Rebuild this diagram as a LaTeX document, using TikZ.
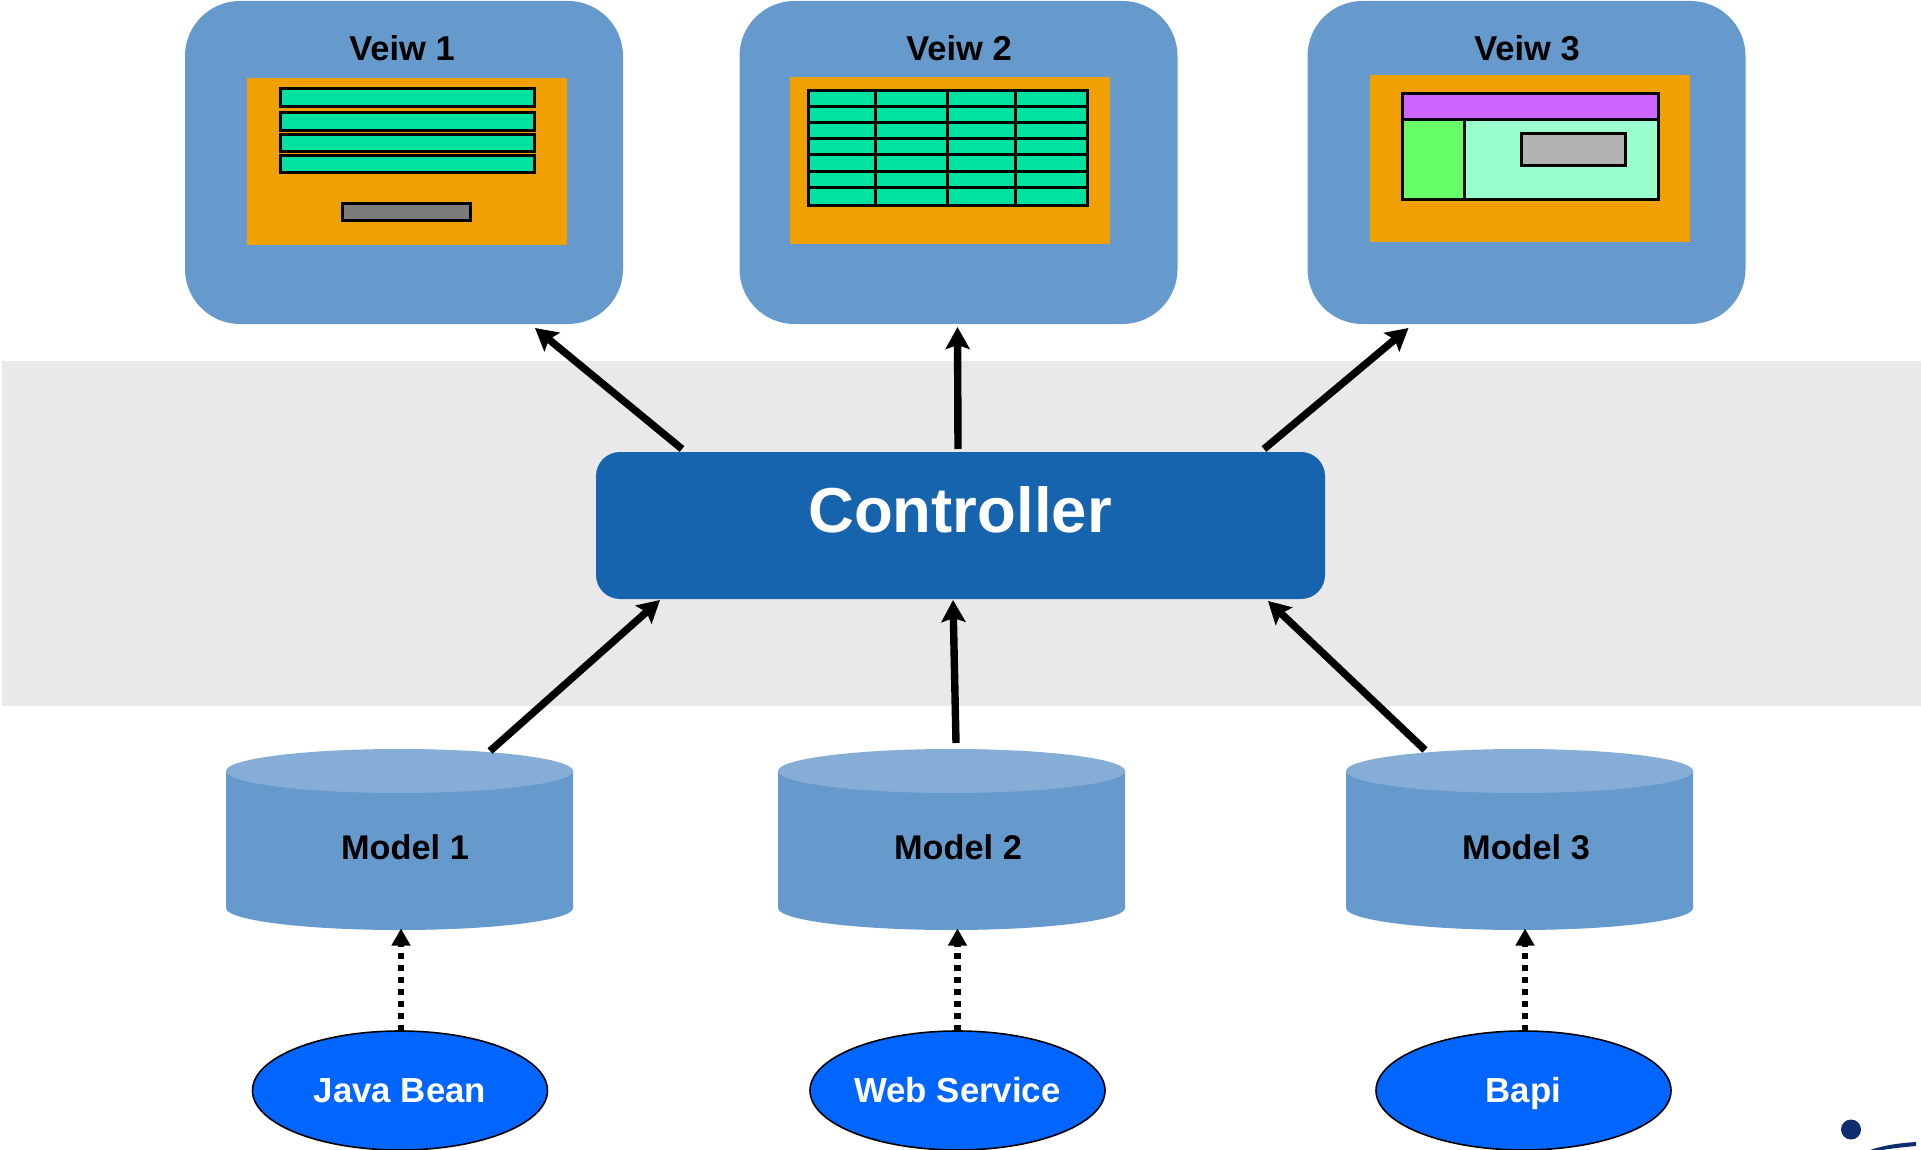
\documentclass[tikz,border=0pt]{standalone}
\usepackage{fontspec}
\setmainfont{Liberation Sans}
\usetikzlibrary{arrows.meta,shapes.geometric}
\definecolor{viewblue}{HTML}{6699CC}
\definecolor{cyltop}{HTML}{85ADD6}
\definecolor{orangebg}{HTML}{F0A000}
\definecolor{tealbar}{HTML}{00E3A0}
\definecolor{greybtn}{HTML}{7C7C7C}
\definecolor{purplebar}{HTML}{CC66FF}
\definecolor{limepane}{HTML}{66FF66}
\definecolor{mintpane}{HTML}{99FFCC}
\definecolor{greypane}{HTML}{B2B2B2}
\definecolor{srcblue}{HTML}{0066FF}
\definecolor{ctrlblue}{HTML}{1764AE}
\definecolor{bandgrey}{HTML}{E9E9E9}
\definecolor{navy}{HTML}{0F2D6E}
\tikzset{
  viewbox/.style={draw=none,fill=viewblue,rounded corners=55pt,minimum width=438pt,minimum height=323pt,inner sep=0pt,outer sep=0pt},
  viewtitle/.style={anchor=base,font=\fontsize{34.5}{34.5}\selectfont\bfseries,text=black,inner sep=0pt},
  panel/.style={fill=orangebg,draw=none},
  item/.style={draw=black,line width=3pt},
  modelbox/.style={rectangle,minimum width=347pt,minimum height=181pt,inner sep=0pt,outer sep=0pt,draw=none},
  modeltitle/.style={anchor=base,font=\fontsize{34.3}{34.3}\selectfont\bfseries,text=black,inner sep=0pt},
  source/.style={ellipse,draw=black,line width=1.6pt,fill=srcblue,minimum width=295pt,minimum height=119pt,inner sep=0pt,outer sep=0pt,text=white,text height=24pt,text depth=1pt,font=\fontsize{34.8}{34.8}\selectfont\bfseries},
  ctrlbox/.style={fill=ctrlblue,draw=none,rounded corners=24pt,minimum width=729pt,minimum height=147pt,inner sep=0pt,outer sep=0pt},
  flow/.style={draw=black,line width=7.4pt,-{Stealth[length=22pt,width=24pt,inset=4pt]}},
  feed/.style={draw=black,line width=6.4pt,dash pattern=on 6pt off 6pt,-{Triangle[length=17pt,width=18pt]}},
}
\newcommand{\cylshape}[1]{%
  \fill[viewblue] ([shift={(0,22)}]#1.north west) -- ([shift={(0,-22)}]#1.south west)
    arc[x radius=173.5,y radius=22,start angle=180,end angle=0]
    -- ([shift={(0,22)}]#1.north east) -- cycle;
  \fill[cyltop] ([shift={(0,22)}]#1.north) ellipse [x radius=173.5,y radius=22];
}
\begin{document}
\begin{tikzpicture}[x=1pt,y=-1pt]
\useasboundingbox (0,0) rectangle (1921,1150);
\fill[white] (0,0) rectangle (1921,1150);
\fill[bandgrey] (2,361) rectangle (1921,706);
% views
\node[viewbox] (v1) at (404,162.5) {};
\node[viewbox] (v2) at (958.5,162.5) {};
\node[viewbox] (v3) at (1526.5,162.5) {};
\node[viewtitle] (v1t) at (402,60.5) {Veiw 1};
\node[viewtitle] (v2t) at (959,60.5) {Veiw 2};
\node[viewtitle] (v3t) at (1527,60.5) {Veiw 3};
% view 1 content
\fill[panel] (247,78) rectangle (567,245);
\draw[item,fill=tealbar] (280,89) rectangle (534,106.5);
\draw[item,fill=tealbar] (280,113) rectangle (534,130.5);
\draw[item,fill=tealbar] (280,135) rectangle (534,152);
\draw[item,fill=tealbar] (280,156) rectangle (534,173);
\draw[item,fill=greybtn] (342.5,204) rectangle (470,221);
% view 2 content
\fill[panel] (790,77) rectangle (1110,244);
\draw[item,fill=tealbar] (808.5,91) rectangle (1087.5,206);
\draw[item] (875,91) -- (875,206) (947,91) -- (947,206) (1015,91) -- (1015,206);
\draw[item] (808.5,107) -- (1087.5,107) (808.5,123) -- (1087.5,123) (808.5,139) -- (1087.5,139)
  (808.5,155) -- (1087.5,155) (808.5,172) -- (1087.5,172) (808.5,188) -- (1087.5,188);
% view 3 content
\fill[panel] (1370,75) rectangle (1690,242);
\draw[item,fill=purplebar] (1402,94) rectangle (1658,120);
\draw[item,fill=limepane] (1402,120) rectangle (1464,200);
\draw[item,fill=mintpane] (1464,120) rectangle (1658,200);
\draw[item,fill=greypane] (1521,134) rectangle (1625,166);
% controller
\node[ctrlbox] (ctrl) at (960.5,525.5) {};
\node[anchor=base,font=\fontsize{63.5}{63.5}\selectfont\bfseries,text=white,inner sep=0pt] (ctrlt) at (960,532) {Controller};
% models
\node[modelbox] (m1) at (399.5,839.5) {};
\node[modelbox] (m2) at (951.5,839.5) {};
\node[modelbox] (m3) at (1519.5,839.5) {};
\cylshape{m1}
\cylshape{m2}
\cylshape{m3}
\node[modeltitle] (m1t) at (405,859) {Model 1};
\node[modeltitle] (m2t) at (958,859) {Model 2};
\node[modeltitle] (m3t) at (1526,859) {Model 3};
% sources
\node[source] (s1) at (400,1090.5) {Java Bean};
\node[source] (s2) at (957.5,1090.5) {Web Service};
\node[source] (s3) at (1523.5,1090.5) {Bapi};
% connectors
\draw[flow] ([shift={(86,-3)}]ctrl.north west) -- ([shift={(350,4)}]v1.south west);
\draw[flow] ([shift={(362,-3)}]ctrl.north west) -- ([shift={(218,3)}]v2.south west);
\draw[flow] ([shift={(668,-3)}]ctrl.north west) -- ([shift={(101,4)}]v3.south west);
\draw[flow] ([shift={(90.5,2)}]m1.north) -- ([shift={(64,1)}]ctrl.south west);
\draw[flow] ([shift={(4.5,-6)}]m2.north) -- ([shift={(357,1)}]ctrl.south west);
\draw[flow] ([shift={(-94.5,1)}]m3.north) -- ([shift={(672,2)}]ctrl.south west);
\draw[feed] ([xshift=1pt]s1.north) -- ([shift={(1,-1.5)}]s1.north |- m1.south);
\draw[feed] (s2.north) -- ([shift={(0,-1.5)}]s2.north |- m2.south);
\draw[feed] ([xshift=1.5pt]s3.north) -- ([shift={(1.5,-1.5)}]s3.north |- m3.south);
% corner logo fragment
\fill[navy] (1851,1129.5) circle (10);
\fill[navy] (1870,1150) .. controls (1885,1145) and (1900,1143) .. (1916,1142) -- (1916,1146) .. controls (1905,1147) and (1895,1148) .. (1882,1150) -- cycle;
\end{tikzpicture}
\end{document}
